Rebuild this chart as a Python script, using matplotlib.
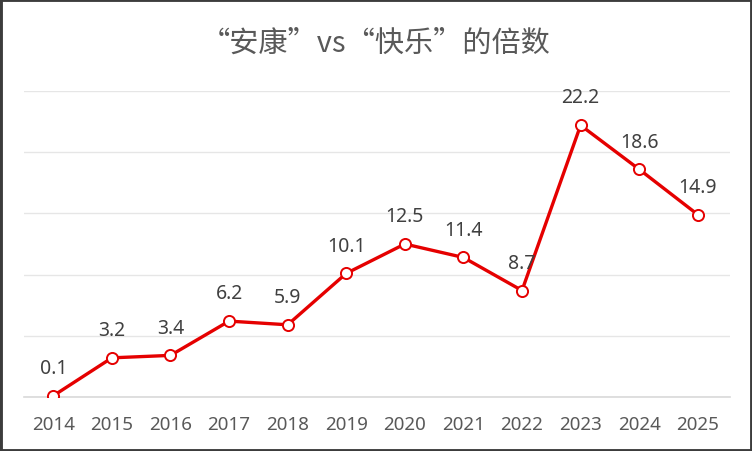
import matplotlib
matplotlib.use("Agg")
import matplotlib.pyplot as plt
from matplotlib.patches import Rectangle

plt.rcParams['font.family'] = ['Noto Sans CJK SC', 'DejaVu Sans']

title = '“安康”vs“快乐”的倍数'
years = ['2014', '2015', '2016', '2017', '2018', '2019', '2020', '2021',
         '2022', '2023', '2024', '2025']
values = [0.1, 3.2, 3.4, 6.2, 5.9, 10.1, 12.5, 11.4, 8.7, 22.2, 18.6, 14.9]
yticks = [0, 5, 10, 15, 20, 25]

W, H = 752, 452
fig = plt.figure(figsize=(W / 100, H / 100), dpi=100)
fig.patch.set_facecolor('white')

left, right, top, bottom = 24, 730, 92, 398
ax = fig.add_axes([left / W, 1 - bottom / H, (right - left) / W, (bottom - top) / H])

x = list(range(len(years)))
red = '#E50000'
ax.plot(x, values, color=red, lw=2.4, marker='o', markersize=8,
        markerfacecolor='white', markeredgecolor=red, markeredgewidth=1.4,
        zorder=3, solid_joinstyle='round')

num_font = ['Noto Sans', 'DejaVu Sans']
for xi, v in zip(x, values):
    ax.annotate(f'{v:.1f}', (xi, v), xytext=(0, 20), textcoords='offset points',
                ha='center', va='center', fontsize=14, color='#404040',
                family=num_font)

ax.set_xlim(-0.5, len(years) - 0.45)
ax.set_ylim(0, 25)
ax.set_yticks(yticks)
ax.set_yticklabels([])
ax.set_xticks(x)
ax.set_xticklabels(years, fontsize=13.5, color='#595959', family=num_font)
ax.tick_params(axis='both', length=0)
ax.tick_params(axis='x', pad=13)
ax.grid(axis='y', color='#E6E6E6', lw=1.0)
ax.set_axisbelow(True)
for s in ['top', 'right', 'left']:
    ax.spines[s].set_visible(False)
ax.spines['bottom'].set_color('#D9D9D9')
ax.spines['bottom'].set_linewidth(1.2)

fig.text(0.5, 1 - 44 / H, title, ha='center', va='center', fontsize=21, color='#595959')

fig.patches.append(Rectangle((0, 0), 1, 1, transform=fig.transFigure, fill=False,
                             edgecolor='#3C3C3C', lw=3.5, zorder=10))

fig.savefig('out.png', dpi=100)
